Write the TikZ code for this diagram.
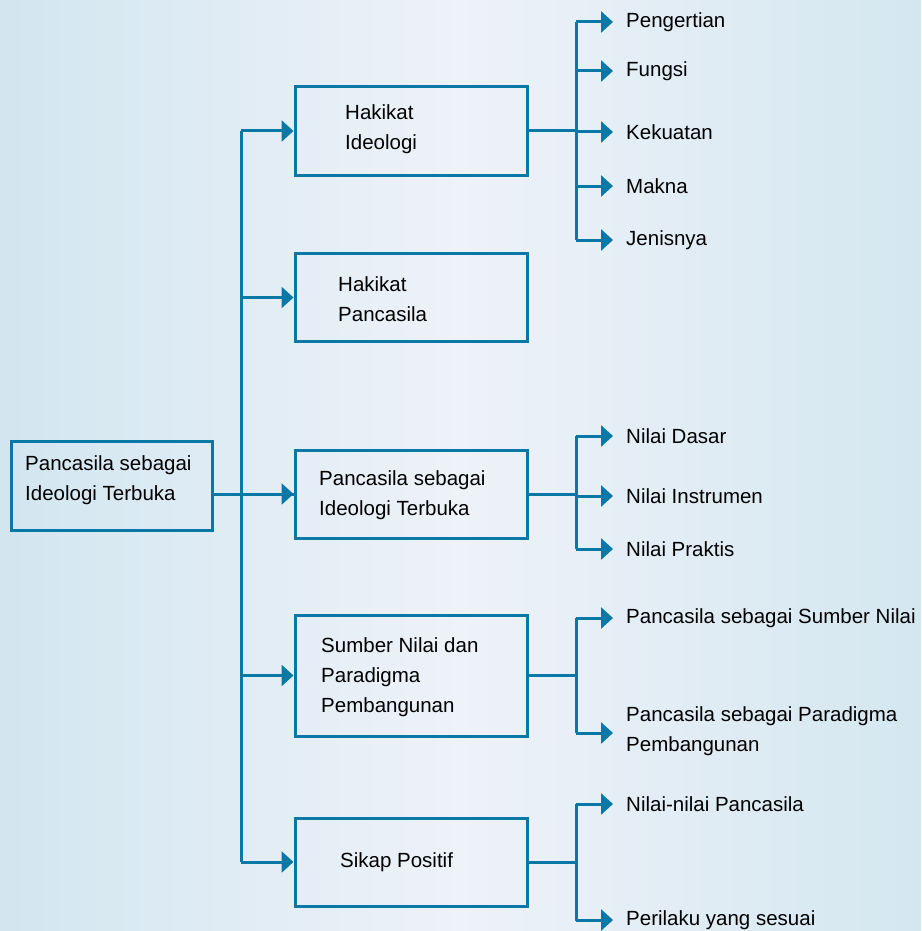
\documentclass[tikz,border=0pt]{standalone}
\usepackage{fontspec}
\setmainfont{Liberation Sans}
\usetikzlibrary{arrows.meta}
\definecolor{lc}{RGB}{10,120,166}
\definecolor{bgA}{RGB}{210,230,240}
\definecolor{bgB}{RGB}{238,242,249}
\definecolor{bgC}{RGB}{212,231,240}
\newcommand{\fs}{\fontsize{20.5}{30}\selectfont}
\tikzset{
  conn/.style={draw=lc, line width=3pt},
  arr/.style={conn, -{Triangle[length=12pt,width=21pt]}},
  box/.style={draw=lc, line width=3pt, minimum width=232pt, minimum height=88pt, inner sep=0pt},
  txt/.style={font=\fs, align=left, anchor=west, inner sep=0pt, text=black},
  leaf/.style={font=\fs, align=left, anchor=west, inner xsep=13pt, inner ysep=0pt, text=black}
}
\begin{document}
\begin{tikzpicture}[x=1pt,y=-1pt]
\useasboundingbox (0,0) rectangle (921,931);
\shade[left color=bgA, right color=bgC, middle color=bgB] (0,0) rectangle (921,931);

% root
\node[box, minimum width=201pt, minimum height=89pt] (root) at (111.5,485.5) {};
\node[txt] (roott) at (25,480) {Pancasila sebagai\\Ideologi Terbuka};

% boxes
\node[box] (b1) at (411,131) {};
\node[txt] (b1t) at (345,129.5) {Hakikat\\Ideologi};
\node[box] (b2) at (411,297.5) {};
\node[txt] (b2t) at (338,299) {Hakikat\\Pancasila};
\node[box] (b3) at (411,494) {};
\node[txt] (b3t) at (319,495) {Pancasila sebagai\\Ideologi Terbuka};
\node[box, minimum height=121pt] (b4) at (411,675.5) {};
\node[txt] (b4t) at (321,677.5) {Sumber Nilai dan\\Paradigma\\Pembangunan};
\node[box] (b5) at (411,862) {};
\node[txt] (b5t) at (340,862) {Sikap Positif};

% trunk
\coordinate (t1) at (241,131);
\coordinate (t5) at (241,862);
\draw[conn] (root.east |- b3.west) -- (b3.west);
\draw[conn] (t1) -- (t5);
\draw[arr] (t1) -- (b1.west);
\draw[arr] (241,297.5) -- (b2.west);
\draw[arr] (241,494) -- (b3.west);
\draw[arr] (241,675.5) -- (b4.west);
\draw[arr] (t5) -- (b5.west);

% leaves of b1
\node[leaf] (l11) at (613,22) {Pengertian};
\node[leaf] (l12) at (613,71) {Fungsi};
\node[leaf] (l13) at (613,132) {Kekuatan};
\node[leaf] (l14) at (613,186) {Makna};
\node[leaf] (l15) at (613,240) {Jenisnya};
\draw[conn] (b1.east) -- (576,131);
\draw[conn] (576,22) -- (576,240);
\foreach \n in {l11,l12,l13,l14,l15} \draw[arr] (576,0 |- \n.west) -- (\n.west);

% leaves of b3
\node[leaf] (l31) at (613,436) {Nilai Dasar};
\node[leaf] (l32) at (613,496) {Nilai Instrumen};
\node[leaf] (l33) at (613,549) {Nilai Praktis};
\draw[conn] (b3.east) -- (576,494);
\draw[conn] (576,436) -- (576,549);
\foreach \n in {l31,l32,l33} \draw[arr] (576,0 |- \n.west) -- (\n.west);

% leaves of b4
\node[leaf] (l41) at (613,618) {Pancasila sebagai Sumber Nilai};
\node[leaf] (l42) at (613,731) {Pancasila sebagai Paradigma\\Pembangunan};
\draw[conn] (b4.east) -- (576,675.5);
\draw[conn] (576,618) -- (576,733);
\draw[arr] (576,618) -- (l41.west);
\draw[arr] (576,733) -- (613,733);

% leaves of b5
\node[leaf] (l51) at (613,804) {Nilai-nilai Pancasila};
\node[leaf] (l52) at (613,920) {Perilaku yang sesuai};
\draw[conn] (b5.east) -- (576,862);
\draw[conn] (576,804) -- (576,921);
\foreach \n in {l51,l52} \draw[arr] (576,0 |- \n.west) -- (\n.west);
\end{tikzpicture}
\end{document}
